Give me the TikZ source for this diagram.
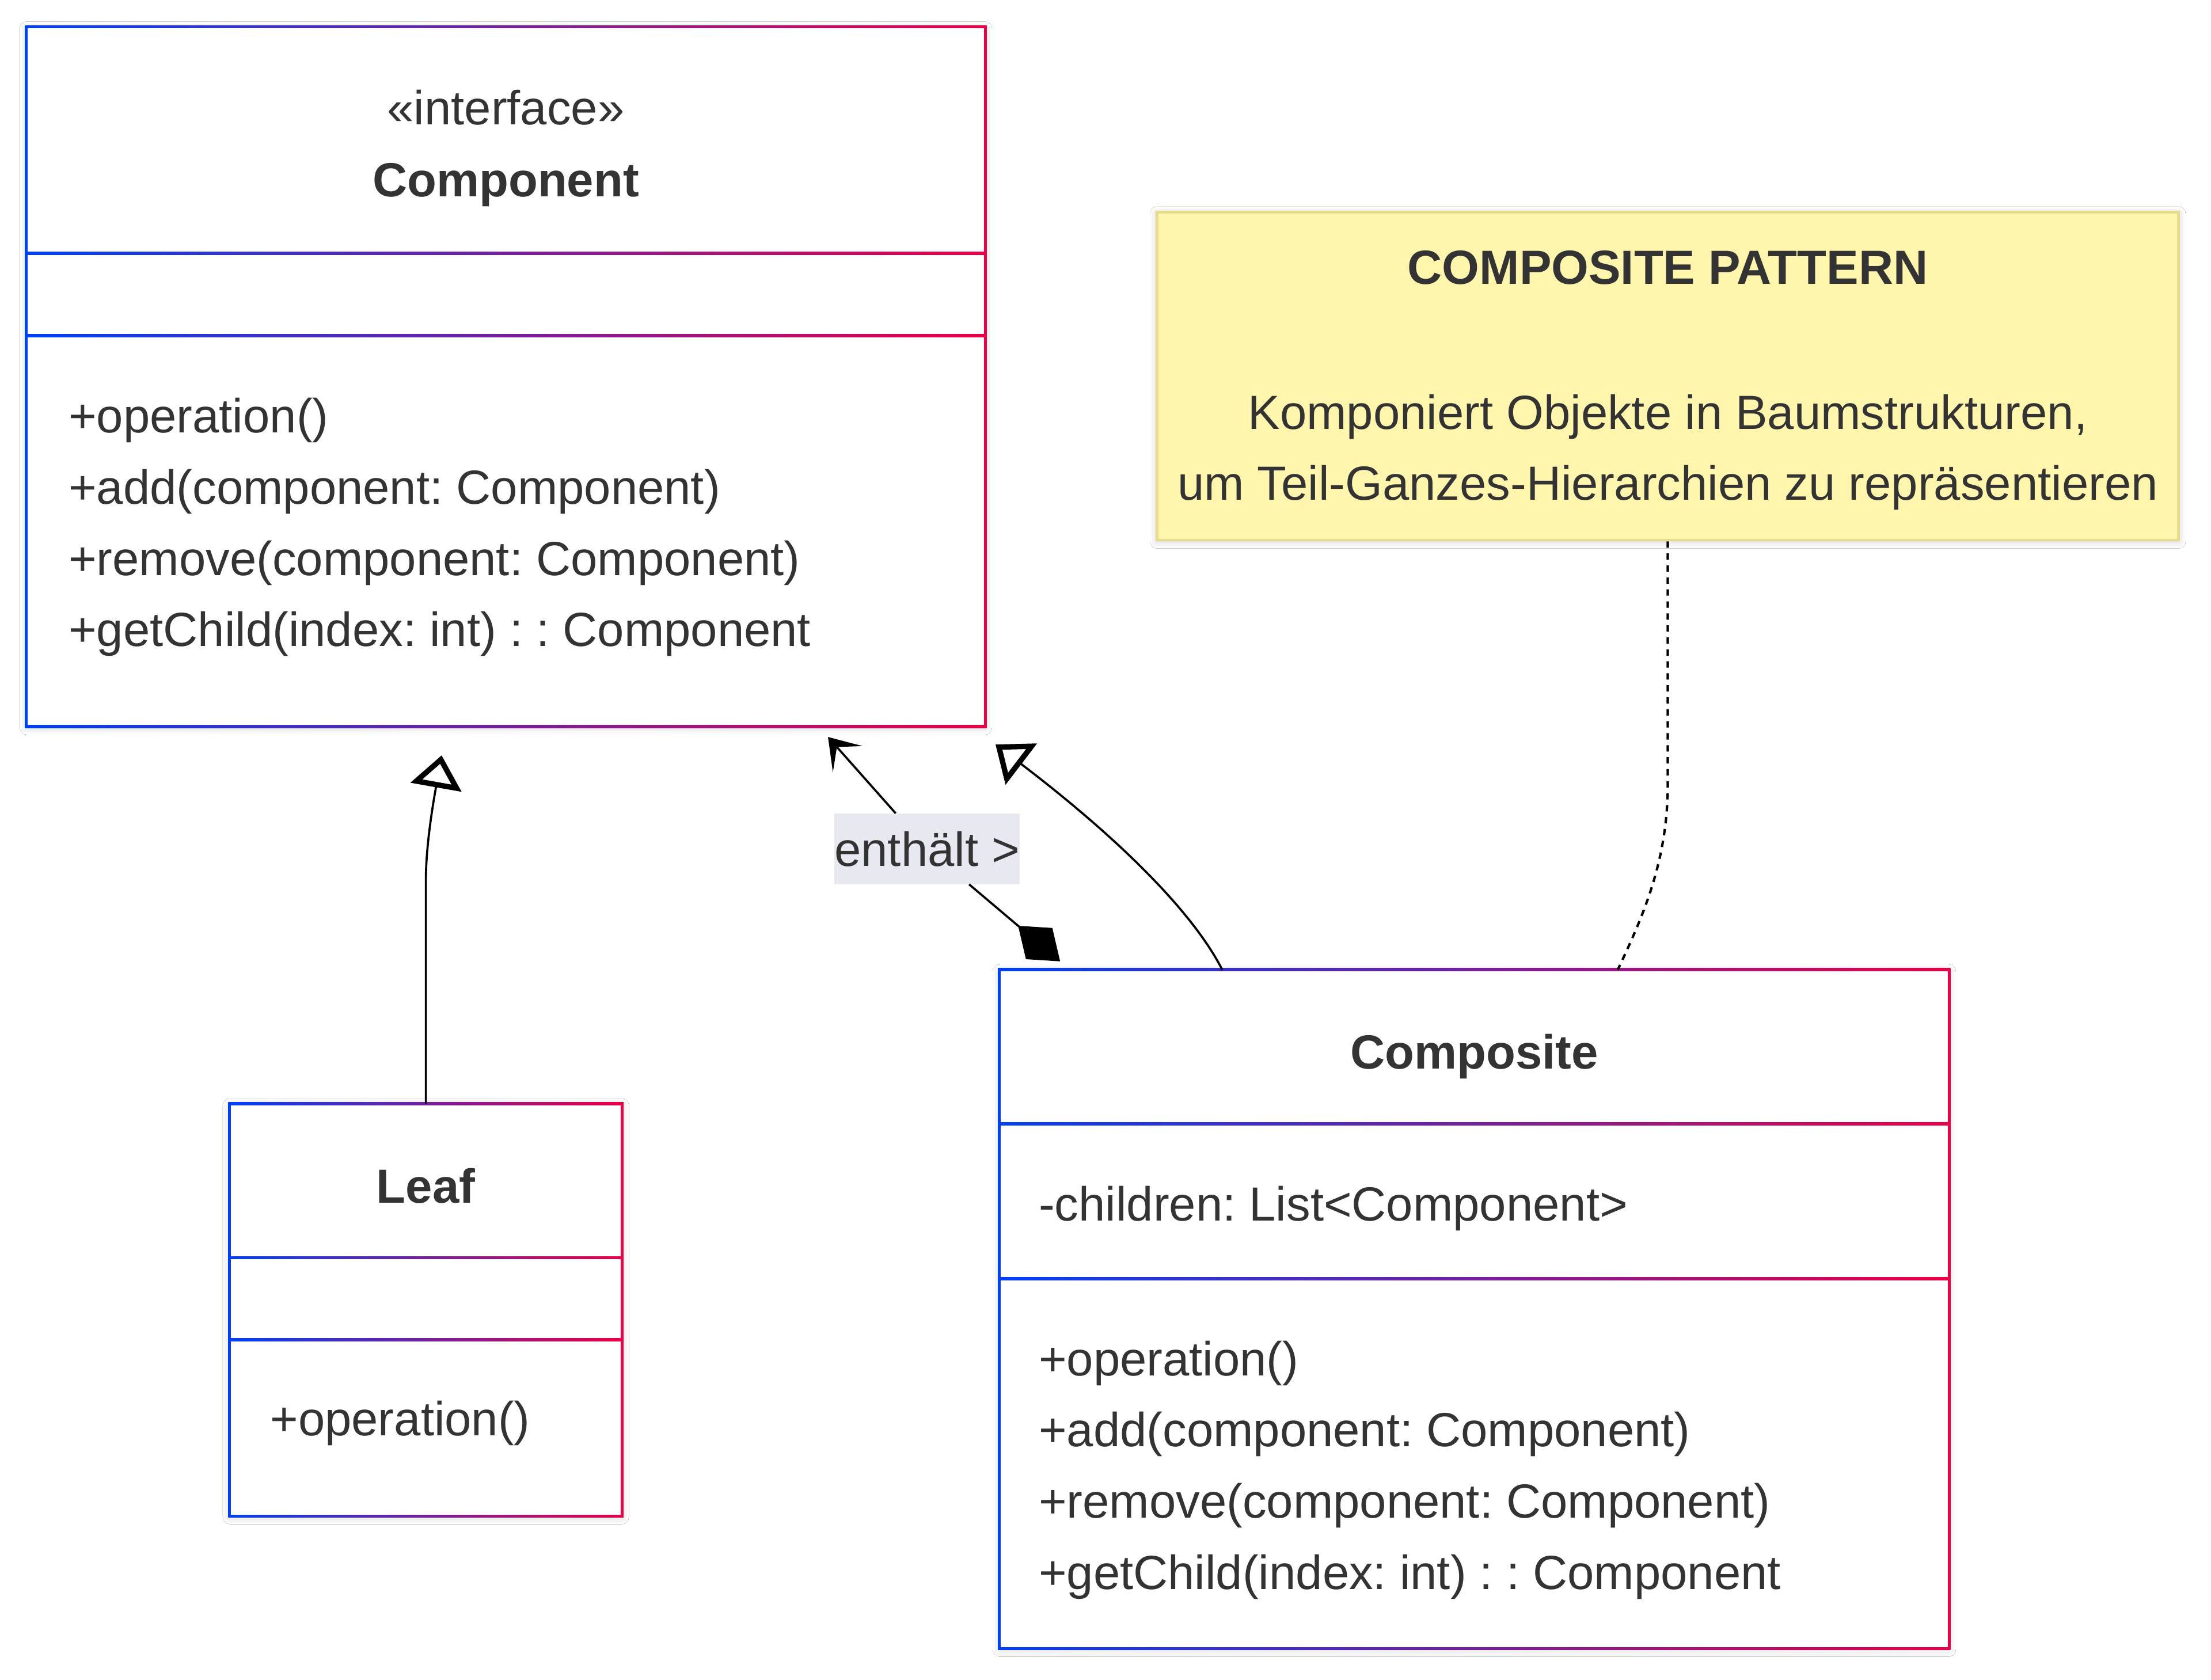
\documentclass[tikz,border=0pt]{standalone}
\usepackage{fontspec}
\setmainfont{Liberation Sans}
\usepackage{tikz}
\usetikzlibrary{calc}
\usetikzlibrary{arrows.meta}
\usetikzlibrary{shadows.blur}
\definecolor{umlblue}{RGB}{0,64,245}
\definecolor{umlred}{RGB}{235,0,70}
\definecolor{umltext}{RGB}{51,51,51}
\definecolor{notefill}{RGB}{255,245,173}
\definecolor{noteline}{RGB}{230,218,140}
\definecolor{labelfill}{RGB}{232,232,240}
\newcommand{\gradframe}[1]{\shade[left color=umlblue, right color=umlred] ($(#1.north west)+(-1,-1)$) rectangle ($(#1.south east)+(1,1)$); \fill[white] ($(#1.north west)+(1,1)$) rectangle ($(#1.south east)+(-1,-1)$);}
\newcommand{\gradrule}[3]{\shade[left color=umlblue, right color=umlred] (#1-1,#2-1) rectangle (#3+1,#2+1);}
\tikzset{
  classnode/.style={inner sep=0pt, fill=white, blur shadow={shadow xshift=0pt, shadow yshift=-1pt, shadow blur radius=5pt, shadow opacity=20}},
  notebox/.style={inner sep=0pt, fill=notefill, draw=noteline, line width=2pt, blur shadow={shadow xshift=0pt, shadow yshift=-1pt, shadow blur radius=5pt, shadow opacity=20}},
  memberline/.style={anchor=base west, inner sep=0pt, text=umltext, font=\fontsize{34}{40}\selectfont},
  stereotype/.style={anchor=base, inner sep=0pt, text=umltext, font=\fontsize{34}{40}\selectfont},
  classtitle/.style={anchor=base, inner sep=0pt, text=umltext, font=\bfseries\fontsize{34}{40}\selectfont},
  edgelabel/.style={fill=labelfill, inner sep=0pt, minimum width=131pt, minimum height=50pt, text=umltext, font=\fontsize{34}{40}\selectfont},
  realize/.style={line width=1.5pt, -{Triangle[open, length=23pt, width=36pt, line width=3.8pt]}},
  notelink/.style={line width=1.7pt, dash pattern=on 4.5pt off 4pt},
  aggrline/.style={line width=1.5pt}
}
\frenchspacing

\begin{document}
\begin{tikzpicture}[x=1pt, y=-1pt]
    \useasboundingbox (0,0) rectangle (1568,1191.5);
    \fill[white] (0,0) rectangle (1568,1191.5);
    % boxes
    \node[classnode, minimum width=679.5pt, minimum height=495.7pt] (comp) at (358.75,267.15) {};
    \node[classnode, minimum width=278pt, minimum height=292pt] (leaf) at (302,929) {};
    \node[classnode, minimum width=673pt, minimum height=481pt] (compo) at (1045.5,928.5) {};
    \node[notebox, minimum width=724.5pt, minimum height=232.5pt] (note) at (1182.75,266.75) {};
    \gradframe{comp}
    \gradframe{leaf}
    \gradframe{compo}
    % compartments
    \gradrule{19}{179.6}{698.5}
    \gradrule{19}{237.9}{698.5}
    \gradrule{163}{892}{441}
    \gradrule{163}{950}{441}
    \gradrule{709}{797}{1382}
    \gradrule{709}{907}{1382}
    % Component
    \node[stereotype] (compstereo) at (358.75,88.4) {«interface»};
    \node[classtitle] (comptitle) at (358.75,139.4) {Component};
    \node[memberline] (compop) at (48.5,307) {+operation()};
    \node[memberline] (compadd) at (48.5,357.5) {+add(component: Component)};
    \node[memberline] (comprem) at (48.5,408) {+remove(component: Component)};
    \node[memberline] (compget) at (48.5,458.5) {+getChild(index: int) : : Component};
    % Leaf
    \node[classtitle] (leaftitle) at (302,853) {Leaf};
    \node[memberline] (leafop) at (191.5,1018) {+operation()};
    % Composite
    \node[classtitle] (compotitle) at (1045.5,758) {Composite};
    \node[memberline] (compochild) at (736.5,866) {-children: List<Component>};
    \node[memberline] (compoop) at (736.5,975.5) {+operation()};
    \node[memberline] (compoadd) at (736.5,1026) {+add(component: Component)};
    \node[memberline] (comporem) at (736.5,1076.5) {+remove(component: Component)};
    \node[memberline] (compoget) at (736.5,1127) {+getChild(index: int) : : Component};
    % note
    \node[classtitle] (notetitle) at (1182.75,201.5) {COMPOSITE PATTERN};
    \node[stereotype] (noteline1) at (1182.75,304.6) {Komponiert Objekte in Baumstrukturen,};
    \node[stereotype] (noteline2) at (1182.75,354.7) {um Teil-Ganzes-Hierarchien zu repräsentieren};
    % connector ends
    \coordinate (leaftip) at (313.2,535.7);
    \coordinate (compotip) at (706,528);
    \coordinate (compostart) at ($(compo.north west)+(158,0)$);
    \coordinate (holdtip) at (587.2,522.7);
    \coordinate (holdstart) at ($(compo.north west)+(43,-6)$);
    \coordinate (notetarget) at ($(compo.north west)+(438.5,0)$);
    % connectors
    \draw[realize] (leaf.north) -- ++(0,-158) .. controls +(0,-27) and (308,565) .. (leaftip);
    \draw[realize] (compostart) .. controls (845,645) and (790,592) .. (compotip);
    \draw[notelink] (note.south) -- ++(0,172) .. controls +(0,55) and (1165,650) .. (notetarget);
    \node[edgelabel] (holds) at (657.5,602) {enthält >};
    \draw[aggrline, -{Stealth[length=21pt, width=28pt, inset=11.5pt]}] (holds) -- (holdtip);
    \draw[aggrline, -{Diamond[length=39pt, width=29pt]}] (holds) -- (holdstart);
\end{tikzpicture}
\end{document}
